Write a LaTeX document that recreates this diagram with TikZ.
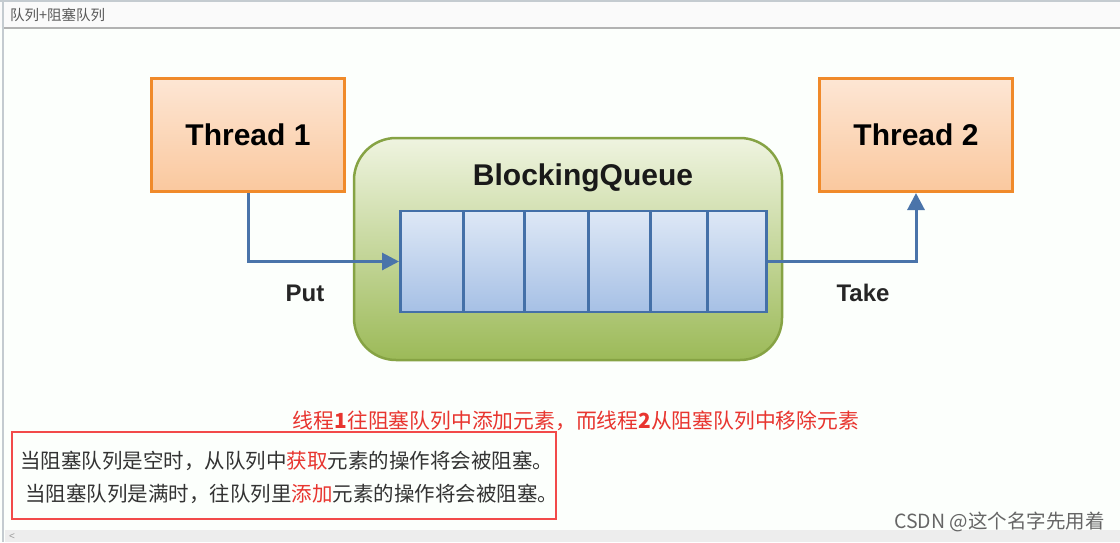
\documentclass[tikz,border=0pt]{standalone}
\usepackage{fontspec}
\setmainfont{Liberation Sans}
\newfontfamily\cjk{Noto Sans CJK SC}
\usetikzlibrary{arrows.meta}
\definecolor{orbord}{HTML}{F08A2A}
\definecolor{ortop}{HTML}{FDE6D4}
\definecolor{orbot}{HTML}{FAC89E}
\definecolor{grbord}{HTML}{86A344}
\definecolor{grtop}{HTML}{EFF4E0}
\definecolor{grbot}{HTML}{9CBA58}
\definecolor{bltop}{HTML}{DEE8F6}
\definecolor{blbot}{HTML}{A6C0E5}
\definecolor{blbord}{HTML}{4470A8}
\definecolor{arrowc}{HTML}{4A74AA}
\definecolor{redtxt}{HTML}{E8352F}
\definecolor{redbox}{HTML}{F24A4A}
\definecolor{chrome}{HTML}{C4CBD0}
\tikzset{
  threadbox/.style={draw=orbord, line width=3pt, top color=ortop, bottom color=orbot,
    minimum width=193pt, minimum height=113pt, inner sep=0pt,
    font=\fontsize{30}{36}\selectfont\bfseries},
  qcell/.style={draw=blbord, line width=2.5pt, top color=bltop, bottom color=blbot,
    minimum height=101pt, inner sep=0pt, anchor=west},
  flow/.style={draw=arrowc, line width=3pt, -{Triangle[length=17pt,width=17pt]}},
  lbl/.style={font=\fontsize{24}{28}\selectfont\bfseries, text=black!85},
  cjktxt/.style={font=\cjk\fontsize{20.5}{24}\selectfont, anchor=west, inner sep=0pt}
}
\begin{document}
\begin{tikzpicture}[x=1pt,y=-1pt]
\useasboundingbox (0,0) rectangle (1120,542);
% window chrome
\fill[white!97!green!40!white] (0,0) rectangle (1120,542);
\fill[black!2] (0,0) rectangle (1120,28);
\draw[chrome, line width=1.5pt] (0,0.75) -- (1120,0.75);
\draw[black!30, line width=1.2pt] (4,28) -- (1120,28);
\draw[chrome, line width=2.5pt] (3,0) -- (3,542);
\node[anchor=west, inner sep=0pt, font=\cjk\fontsize{14.5}{16}\selectfont, text=black!65] (title) at (10,15) {队列+阻塞队列};
\fill[black!7] (5,530) rectangle (1120,542);
\node[inner sep=0pt, font=\fontsize{10}{12}\selectfont, text=black!40] (scroll) at (12,537) {<};

% blocking queue container
\node[draw=grbord, line width=2.5pt, rounded corners=42pt, top color=grtop, bottom color=grbot,
  minimum width=428pt, minimum height=222pt, inner sep=0pt] (bq) at (568,249) {};
\node[font=\fontsize{30}{36}\selectfont\bfseries, text=black!90] (bqlabel) at (583,178) {BlockingQueue};

% queue cells
\node[qcell, minimum width=63pt] (c1) at (399,261.5) {};
\node[qcell, minimum width=61pt] (c2) at (462,261.5) {};
\node[qcell, minimum width=64pt] (c3) at (523,261.5) {};
\node[qcell, minimum width=62pt] (c4) at (587,261.5) {};
\node[qcell, minimum width=57pt] (c5) at (649,261.5) {};
\node[qcell, minimum width=59pt] (c6) at (706,261.5) {};

% threads
\node[threadbox] (t1) at (248,135) {Thread 1};
\node[threadbox] (t2) at (916,135) {Thread 2};

% arrows
\draw[flow] (t1.south) |- (c1.west);
\draw[flow] (c6.east) -| (t2.south);
\node[lbl] (put) at (305,293) {Put};
\node[lbl] (take) at (863,293) {Take};

% red caption
\node[font=\cjk\fontsize{20.8}{24}\selectfont, text=redtxt, inner sep=0pt] (cap) at (576,421)
  {线程\textbf{1}往阻塞队列中添加元素，而线程\textbf{2}从阻塞队列中移除元素};

% framed text
\node[draw=redbox, line width=2pt, minimum width=544pt, minimum height=87pt, inner sep=0pt] (frame) at (284,475.5) {};
\node[cjktxt, text=black!80] (l1) at (20,461) {当阻塞队列是空时，从队列中\textcolor{redtxt}{获取}元素的操作将会被阻塞。};
\node[cjktxt, text=black!80] (l2) at (25,494) {当阻塞队列是满时，往队列里\textcolor{redtxt}{添加}元素的操作将会被阻塞。};

% watermark
\node[anchor=east, inner sep=0pt, font=\cjk\fontsize{19.5}{22}\selectfont, text=black!60] (wm) at (1105,522) {CSDN @这个名字先用着};
\end{tikzpicture}
\end{document}
